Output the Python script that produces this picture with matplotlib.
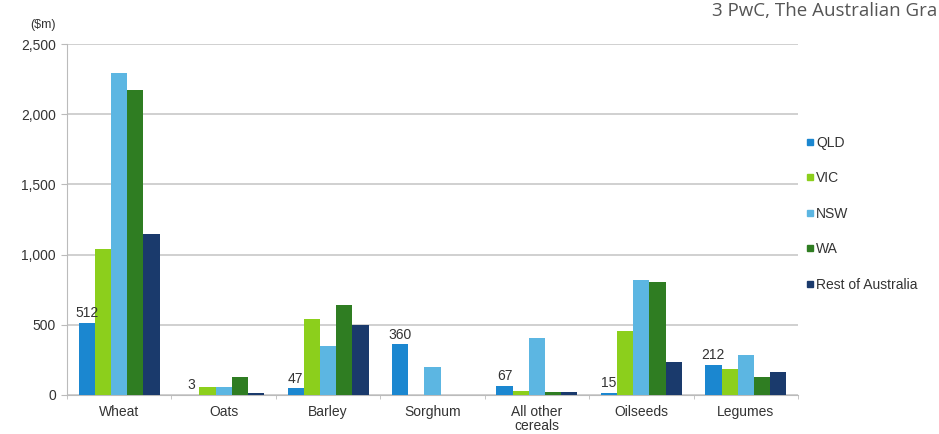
import numpy as np
import matplotlib
matplotlib.use("Agg")
import matplotlib.pyplot as plt
from matplotlib.lines import Line2D

categories = ["Wheat", "Oats", "Barley", "Sorghum", "All other\ncereals", "Oilseeds", "Legumes"]
series_names = ["QLD", "VIC", "NSW", "WA", "Rest of Australia"]
qld = [512, 3, 47, 360, 67, 15, 212]
vic = [1040, 55, 539, 0, 30, 458, 185]
nsw = [2290, 55, 349, 197, 404, 819, 283]
wa = [2170, 126, 639, 0, 23, 807, 130]
rest = [1150, 16, 496, 0, 23, 237, 164]
yticks = [0, 500, 1000, 1500, 2000, 2500]

colors = ["#1b87d0", "#8ccf1c", "#5cb6e2", "#2f7d22", "#1a3a6c"]
series = [qld, vic, nsw, wa, rest]

plt.rcParams["font.family"] = ["Liberation Sans", "DejaVu Sans"]

fig = plt.figure(figsize=(9.39, 4.34), dpi=100)
ax = fig.add_axes([67 / 939, 1 - 395 / 434, (798 - 67) / 939, (395 - 44) / 434])

n = len(series)
bw = 0.155
x = np.arange(len(categories))
for i, (vals, col) in enumerate(zip(series, colors)):
    offs = (i - (n - 1) / 2) * bw
    ax.bar(x + offs, vals, width=bw, color=col, zorder=3)

# value labels on the QLD bars
for xi, v in zip(x, qld):
    ax.annotate(f"{v}", xy=(xi - 2 * bw, v), xytext=(0, 2), textcoords="offset points",
                ha="center", va="bottom", fontsize=10, color="#333333")

ax.set_xlim(-0.5, len(categories) - 0.5)
ax.set_ylim(0, 2500)
ax.set_yticks(yticks)
ax.set_yticklabels([f"{t:,}" for t in yticks], fontsize=10, color="#333333")
ax.set_xticks(x)
ax.set_xticklabels(categories, fontsize=10, color="#333333", linespacing=1.0)
ax.tick_params(axis="x", length=0, pad=7)
ax.tick_params(axis="y", length=4, color="#bbbbbb", pad=4)
# small category separators under the axis
ax.set_xticks(np.arange(len(categories) + 1) - 0.5, minor=True)
ax.tick_params(axis="x", which="minor", length=3, color="#bbbbbb")

ax.grid(axis="y", color="#c8c8c8", linewidth=1.2, zorder=0)
for s in ["top", "right"]:
    ax.spines[s].set_visible(False)
ax.spines["left"].set_color("#bbbbbb")
ax.spines["bottom"].set_color("#bbbbbb")

fig.text(30 / 939, 1 - 25 / 434, "($m)", fontsize=9, color="#333333", va="center")

handles = [Line2D([0], [0], marker="s", linestyle="none", markersize=5,
                  markerfacecolor=c, markeredgecolor=c) for c in colors]
fig.legend(handles, series_names, loc="upper left", bbox_to_anchor=(800 / 939, 1 - 130 / 434),
           frameon=False, fontsize=10, handlelength=0.6, handletextpad=0.15,
           labelspacing=1.55, borderaxespad=0, labelcolor="#333333")

fig.text(937 / 939, 1 - 11 / 434, "3 PwC, The Australian Gra", fontsize=13.5,
         family=["Open Sans", "DejaVu Sans"], color="#555555", va="center", ha="right")

fig.savefig("out.png", dpi=100)
